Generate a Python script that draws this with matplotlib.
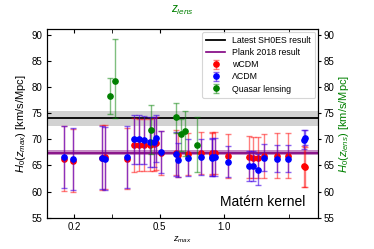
import matplotlib
matplotlib.use('Agg')
import matplotlib.pyplot as plt
import numpy as np

plt.rcParams['font.family'] = ['Liberation Sans', 'DejaVu Sans']
plt.rcParams['mathtext.fontset'] = 'custom'
plt.rcParams['mathtext.rm'] = 'Liberation Sans'
plt.rcParams['mathtext.it'] = 'Liberation Sans:italic'

# redshifts of the reconstructed points
z_max = [0.179, 0.199, 0.27, 0.28, 0.352, 0.380, 0.40, 0.425, 0.450, 0.47, 0.479,
         0.51, 0.593, 0.61, 0.68, 0.78, 0.875, 0.88, 0.90, 1.037, 1.30, 1.363,
         1.43, 1.53, 1.75, 1.965, 2.33, 2.36]

# wCDM
h_w = [66.3, 65.9, 66.5, 66.6, 66.3, 68.9, 68.9, 68.9, 68.9, 69.0, 69.2,
       67.4, 67.4, 66.9, 67.2, 67.3, 67.2, 67.4, 67.4, 66.8, 66.6, 66.5,
       66.5, 66.7, 66.8, 66.8, 64.8, 64.7]
e_w = [6.2, 6.0, 6.2, 6.2, 5.9, 5.1, 5.0, 5.0, 5.0, 5.0, 5.0,
       4.2, 4.3, 4.2, 4.0, 4.0, 4.0, 4.0, 4.0, 4.2, 4.0, 4.0,
       4.0, 4.2, 4.3, 4.3, 3.9, 3.9]

# LCDM
h_l = [66.6, 66.2, 66.5, 66.3, 66.6, 70.0, 70.0, 69.9, 69.4, 69.4, 70.2,
       67.5, 67.1, 66.0, 66.5, 66.6, 66.5, 66.6, 66.6, 65.7, 64.9, 64.9,
       64.2, 66.5, 66.3, 66.3, 69.9, 70.3]
e_l = [6.0, 5.9, 6.0, 6.0, 5.9, 4.7, 4.7, 4.6, 4.8, 4.8, 4.5,
       4.0, 4.2, 3.3, 3.5, 3.4, 3.6, 3.6, 3.6, 3.0, 2.9, 2.9,
       3.0, 2.6, 2.5, 2.5, 1.8, 1.5]

# quasar lensing
z_lens = [0.295, 0.311, 0.4546, 0.597, 0.6304, 0.6575, 0.745]
h_q = [78.2, 81.1, 71.7, 74.2, 71.0, 71.6, 68.9]
e_q_up = [3.4, 8.0, 4.8, 2.7, 2.9, 3.8, 5.4]
e_q_dn = [3.4, 7.1, 4.5, 3.0, 3.3, 4.9, 5.1]

shoes, shoes_err = 74.03, 1.42
planck, planck_err = 67.4, 0.5

fig = plt.figure(figsize=(3.74, 2.49), dpi=100)
ax = fig.add_axes([0.1257, 0.1257, 0.7246, 0.7566])

ax.axhspan(shoes - shoes_err, shoes + shoes_err, color='gray', alpha=0.35, lw=0, zorder=0)
ax.axhline(shoes, color='black', lw=1.3, label='Latest SH0ES result', zorder=1)
ax.axhspan(planck - planck_err, planck + planck_err, color='purple', alpha=0.45, lw=0, zorder=0)
ax.axhline(planck, color='purple', lw=1.2, label='Plank 2018 result', zorder=1)

ax.errorbar(z_max, h_w, yerr=e_w, fmt='o', color='red', ms=3.8, ecolor=(1, 0, 0, 0.5),
            elinewidth=1.0, capsize=2.3, capthick=1.0, label='wCDM', zorder=2)
ax.errorbar(z_max, h_l, yerr=e_l, fmt='o', color='blue', ms=3.8, ecolor=(0.25, 0, 0.9, 0.6),
            elinewidth=1.0, capsize=2.3, capthick=1.0, label='ΛCDM', zorder=3)
ax.errorbar(z_lens, h_q, yerr=[e_q_dn, e_q_up], fmt='o', color='green', ms=3.8,
            ecolor=(0, 0.5, 0, 0.5), elinewidth=1.0, capsize=2.3, capthick=1.0,
            label='Quasar lensing', zorder=4)

ax.set_xscale('log')
ax.set_xlim(0.15, 2.72)
ax.set_ylim(55, 91)
ax.set_xticks([0.2, 0.5, 1.0])
ax.set_xticklabels(['0.2', '0.5', '1.0'])
ax.set_xticks([0.3, 2.0], minor=True)
ax.set_xticklabels(['', ''], minor=True)
ax.set_yticks(np.arange(55, 91, 5))
ax.tick_params(axis='x', which='both', direction='in', top=True, length=3, labelsize=7, pad=3)
ax.tick_params(axis='y', direction='in', length=3, labelsize=7)
ax.set_xlabel('$z_{max}$', fontsize=6.5, labelpad=2)
ax.set_ylabel('$H_0(z_{max})$ [km/s/Mpc]', fontsize=8, labelpad=2)

ax2 = ax.twinx()
ax2.set_ylim(55, 91)
ax2.set_yticks(np.arange(55, 91, 5))
ax2.tick_params(axis='y', direction='out', length=2.5, labelsize=7, pad=1.5)
ax2.set_ylabel('$H_0(z_{lens})$ [km/s/Mpc]', fontsize=8, color='green', labelpad=2)

fig.text(0.487, 0.958, '$z_{lens}$', color='green', fontsize=8.5, ha='center', va='center')
ax.text(0.795, 0.085, 'Matérn kernel', transform=ax.transAxes, fontsize=10,
        ha='center', va='center')

leg = ax.legend(loc='upper right', fontsize=6.3, frameon=True, borderaxespad=0.3,
                handlelength=2.2, labelspacing=0.35, borderpad=0.5)
leg.get_frame().set_edgecolor('#cccccc')
leg.get_frame().set_linewidth(0.8)

fig.savefig('out.png', dpi=100)
